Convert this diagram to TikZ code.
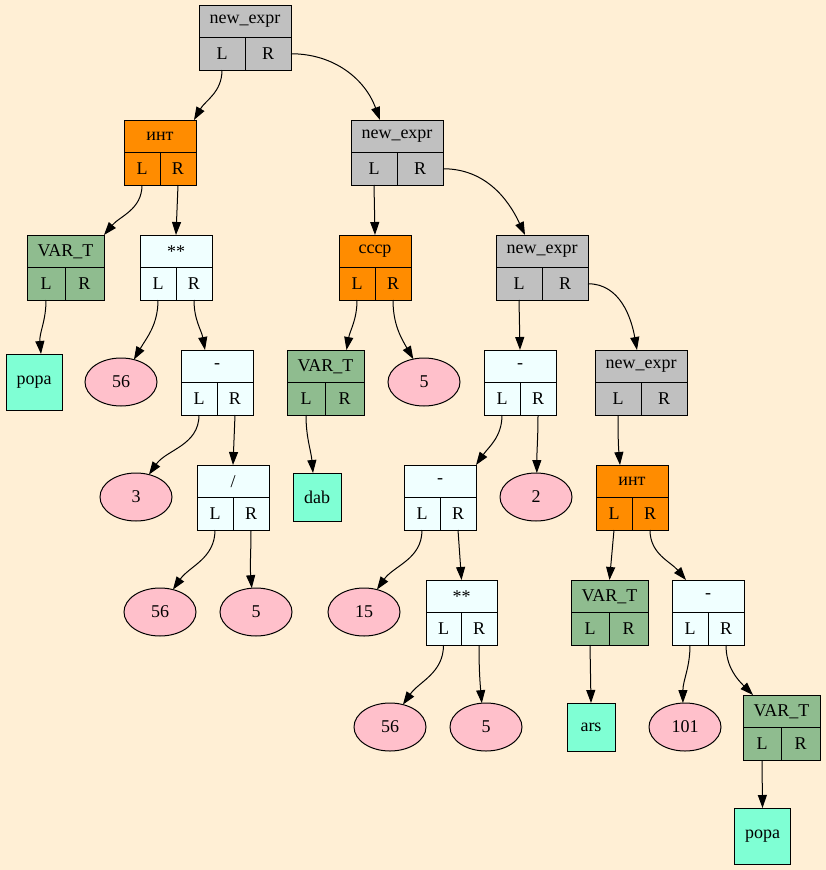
\documentclass[tikz,border=0pt]{standalone}
\usepackage{fontspec}
\setmainfont{Liberation Serif}
\usetikzlibrary{arrows.meta,shapes.geometric}

\definecolor{bgcol}{HTML}{FFEFD5}
\definecolor{exprgray}{HTML}{C0C0C0}
\definecolor{funcorange}{HTML}{FF8C00}
\definecolor{vargreen}{HTML}{8FBC8F}
\definecolor{opazure}{HTML}{F0FFFF}
\definecolor{leafaqua}{HTML}{7FFFD4}
\definecolor{numpink}{HTML}{FFC0CB}

\tikzset{
  cell/.style={draw=black, line width=1pt, inner sep=0pt, outer sep=0pt,
    anchor=north west, font=\fontsize{18}{20}\selectfont},
  exprrec/.style={fill=exprgray},
  funcrec/.style={fill=funcorange},
  varrec/.style={fill=vargreen},
  oprec/.style={fill=opazure},
  leaf/.style={draw=black, fill=leafaqua, line width=1pt, inner sep=0pt,
    outer sep=0pt, font=\fontsize{18}{20}\selectfont},
  num/.style={ellipse, draw=black, fill=numpink, line width=1pt,
    minimum width=72pt, minimum height=48pt, inner sep=0pt, outer sep=0pt,
    font=\fontsize{18}{20}\selectfont},
  edge/.style={-{Triangle[length=13pt,width=9pt]}, line width=1pt},
}

% record: name, style, left x, top y, divider x, right x, label
\newcommand\rec[7]{%
  \node[cell,#2,minimum width={#6-#3},minimum height=32.5] (#1) at (#3,-#4) {#7};
  \node[cell,#2,minimum width={#5-#3},minimum height=32.5] (#1L) at (#3,-#4-32.5) {L};
  \node[cell,#2,minimum width={#6-#5},minimum height=32.5] (#1R) at (#5,-#4-32.5) {R};
}

\begin{document}
\begin{tikzpicture}[x=1pt,y=1pt]
\path[use as bounding box, fill=bgcol] (0,0) rectangle (826,-870);

% records
\rec{r1}{exprrec}{199}{5}{245}{291}{new\_expr}
\rec{r2}{funcrec}{124}{120}{160}{196}{инт}
\rec{r3}{exprrec}{351}{120}{397}{443}{new\_expr}
\rec{r4}{varrec}{27}{235}{65}{104}{VAR\_T}
\rec{r5}{oprec}{140}{235}{176}{212}{**}
\rec{r6}{funcrec}{339}{235}{375}{411}{ссср}
\rec{r7}{exprrec}{496}{235}{542}{588}{new\_expr}
\rec{r8}{oprec}{181}{350}{217}{253}{-}
\rec{r9}{varrec}{287}{350}{325}{364}{VAR\_T}
\rec{r10}{oprec}{484}{350}{520}{556}{-}
\rec{r11}{exprrec}{595}{350}{641}{687}{new\_expr}
\rec{r12}{oprec}{197}{465}{233}{269}{/}
\rec{r13}{oprec}{404}{465}{440}{476}{-}
\rec{r14}{funcrec}{596}{465}{632}{668}{инт}
\rec{r15}{oprec}{426}{580}{461}{497}{**}
\rec{r16}{varrec}{571}{580}{609}{648}{VAR\_T}
\rec{r17}{oprec}{672}{580}{708}{744}{-}
\rec{r18}{varrec}{743}{695}{781}{820}{VAR\_T}

% leaves
\node[leaf, minimum width=56pt, minimum height=56pt] (t1) at (34,-382) {popa};
\node[leaf, minimum width=48pt, minimum height=48pt] (t2) at (317,-497) {dab};
\node[leaf, minimum width=48pt, minimum height=48pt] (t3) at (591,-727) {ars};
\node[leaf, minimum width=56pt, minimum height=56pt] (t4) at (762.5,-836) {popa};

\node[num] (e1) at (121,-382) {56};
\node[num] (e2) at (424,-382) {5};
\node[num] (e3) at (136,-497) {3};
\node[num] (e4) at (536,-497) {2};
\node[num] (e5) at (160,-612) {56};
\node[num] (e6) at (256,-612) {5};
\node[num] (e7) at (364,-612) {15};
\node[num] (e8) at (390,-727) {56};
\node[num] (e9) at (486,-727) {5};
\node[num] (e10) at (685,-727) {101};

% connectors
\draw[edge] (r1L.south) to[out=-90,in=60] ([xshift=-2pt]r2.north east);
\draw[edge] (r1R.east) to[out=0,in=110] ([xshift=-17pt]r3.north);
\draw[edge] (r2L.south) to[out=-90,in=50] (r4.north east);
\draw[edge] (r2R.south) -- (r5.north);
\draw[edge] (r3L.south) -- (r6.north);
\draw[edge] (r3R.east) to[out=0,in=115] ([xshift=-17pt]r7.north);
\draw[edge] (r4L.south) to[out=-90,in=95] ([xshift=7pt]t1.north);
\draw[edge] (r5L.south) to[out=-90,in=60] (e1.60);
\draw[edge] (r5R.south) to[out=-90,in=100] ([xshift=-12pt]r8.north);
\draw[edge] (r6L.south) to[out=-90,in=80] ([xshift=21pt]r9.north);
\draw[edge] (r6R.south) to[out=-90,in=120] (e2.115);
\draw[edge] (r7L.south) -- (r10.north);
\draw[edge] (r7R.east) to[out=0,in=100] ([xshift=-4pt]r11.north);
\draw[edge] (r8L.south) to[out=-90,in=55] (e3.60);
\draw[edge] (r8R.south) -- (r12.north);
\draw[edge] (r9L.south) to[out=-90,in=95] ([xshift=-4pt]t2.north);
\draw[edge] (r10L.south) to[out=-90,in=55] (r13.north east);
\draw[edge] (r10R.south) to[out=-90,in=90] (e4.88);
\draw[edge] (r11L.south) to[out=-90,in=95] ([xshift=-12pt]r14.north);
\draw[edge] (r12L.south) to[out=-90,in=55] (e5.60);
\draw[edge] (r12R.south) to[out=-90,in=95] (e6.100);
\draw[edge] (r13L.south) to[out=-90,in=55] (e7.60);
\draw[edge] (r13R.south) -- (r15.north);
\draw[edge] (r14L.south) -- (r16.north);
\draw[edge] (r14R.south) to[out=-90,in=130] ([xshift=-22pt]r17.north);
\draw[edge] (r15L.south) to[out=-90,in=55] (e8.60);
\draw[edge] (r15R.south) to[out=-90,in=95] (e9.100);
\draw[edge] (r16L.south) -- (t3.north);
\draw[edge] (r17L.south) to[out=-90,in=90] (e10.95);
\draw[edge] (r17R.south) to[out=-90,in=135] ([xshift=10pt]r18.north west);
\draw[edge] (r18L.south) -- (t4.north);
\end{tikzpicture}
\end{document}
